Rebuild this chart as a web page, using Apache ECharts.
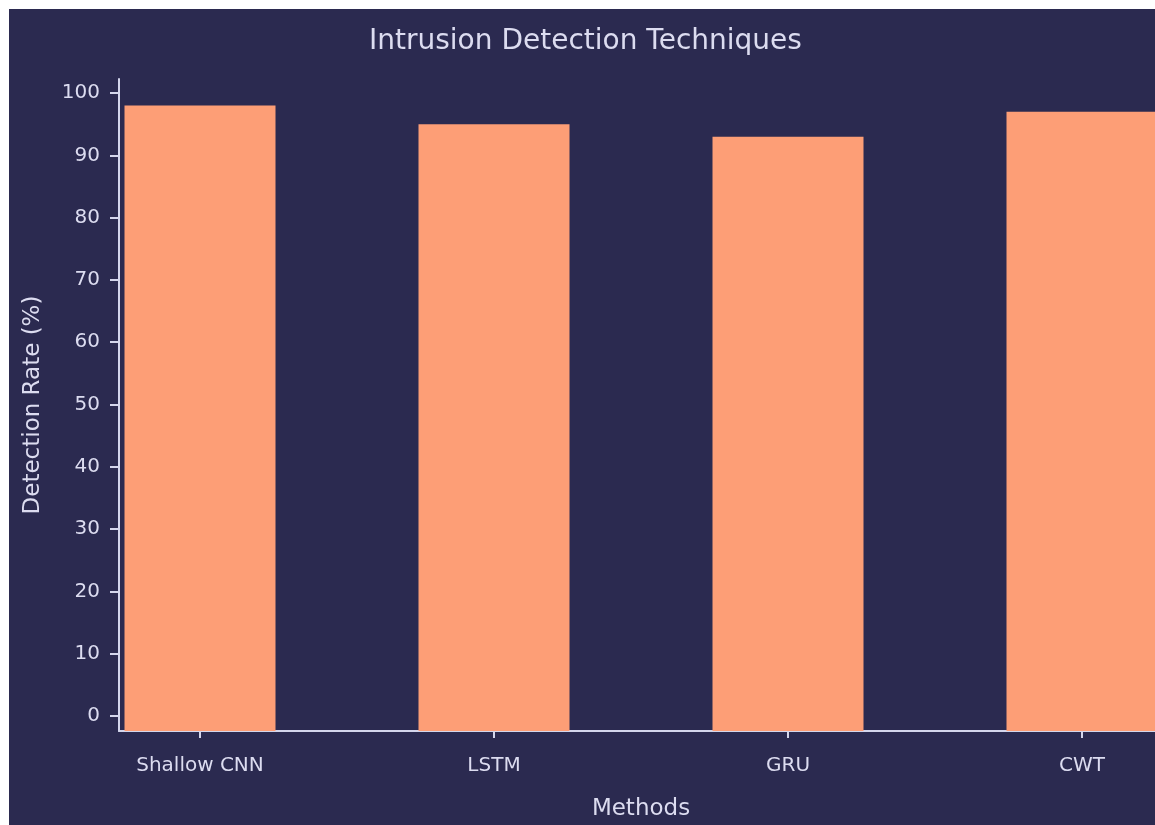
<!DOCTYPE html>
<html>
<head>
<meta charset="utf-8">
<script src="https://cdn.jsdelivr.net/npm/echarts@6/dist/echarts.min.js"></script>
<style>
  html, body { margin: 0; padding: 0; background: #ffffff; overflow: hidden; width: 1155px; height: 825px; }
  #chart { position: absolute; left: 9px; top: 9px; width: 1146px; height: 816px; background: #2b2a50; }
</style>
</head>
<body>
<div id="chart"></div>
<script>
// ---- data ----
const titleText = 'Intrusion Detection Techniques';
const methods = ['Shallow CNN', 'LSTM', 'GRU', 'CWT'];
const detectionRates = [98, 95, 93, 97];
const yTicks = [0, 10, 20, 30, 40, 50, 60, 70, 80, 90, 100];
const xAxisName = 'Methods';
const yAxisName = 'Detection Rate (%)';

// ---- style ----
const FONT = 'DejaVu Sans';
const TEXT = '#dcdcf0';
const LINE = '#d4d6ec';
const BAR = '#fd9e76';
const Y_MIN = -2.4, Y_MAX = 102.25;

const chart = echarts.init(document.getElementById('chart'), null, { renderer: 'canvas' });
chart.setOption({
  backgroundColor: '#2b2a50',
  animation: false,
  title: {
    text: titleText,
    left: 355,
    top: 14,
    textStyle: { color: TEXT, fontFamily: FONT, fontSize: 28, fontWeight: 'normal' }
  },
  grid: [
    { left: 110, top: 70, height: 652, right: 0, outerBoundsMode: 'none', containLabel: false },
    { left: 44, top: 70, height: 652, width: 1176, outerBoundsMode: 'none', containLabel: false }
  ],
  xAxis: [
    {
      gridIndex: 0, type: 'value', min: 0, max: 1,
      axisLine: { show: true, onZero: false, lineStyle: { color: LINE, width: 2 } },
      axisTick: { show: false }, axisLabel: { show: false }, splitLine: { show: false }
    },
    {
      gridIndex: 1, type: 'category', data: methods,
      axisLine: { show: true, onZero: false, lineStyle: { color: 'rgba(0,0,0,0)', width: 0 } },
      axisTick: { show: true, alignWithLabel: true, length: 7, lineStyle: { color: LINE, width: 2 } },
      axisLabel: { color: TEXT, fontFamily: FONT, fontSize: 20, margin: 25 },
      name: xAxisName, nameLocation: 'middle', nameGap: 67,
      nameTextStyle: { color: TEXT, fontFamily: FONT, fontSize: 23 },
      splitLine: { show: false }
    }
  ],
  yAxis: [
    {
      gridIndex: 0, type: 'value', min: Y_MIN, max: Y_MAX,
      axisLine: { show: true, onZero: false, lineStyle: { color: LINE, width: 2 } },
      axisTick: { show: true, length: 9, customValues: yTicks, lineStyle: { color: LINE, width: 2 } },
      axisLabel: { color: TEXT, fontFamily: FONT, fontSize: 20, margin: 19, customValues: yTicks },
      splitLine: { show: false },
      name: yAxisName, nameLocation: 'middle', nameGap: 74,
      nameTextStyle: { color: TEXT, fontFamily: FONT, fontSize: 23 }
    },
    {
      gridIndex: 1, type: 'value', min: Y_MIN, max: Y_MAX, startValue: Y_MIN,
      show: false, splitLine: { show: false }
    }
  ],
  series: [{
    type: 'bar',
    xAxisIndex: 1, yAxisIndex: 1,
    data: detectionRates,
    barWidth: 151,
    itemStyle: { color: BAR },
    silent: true
  }]
});
</script>
</body>
</html>
